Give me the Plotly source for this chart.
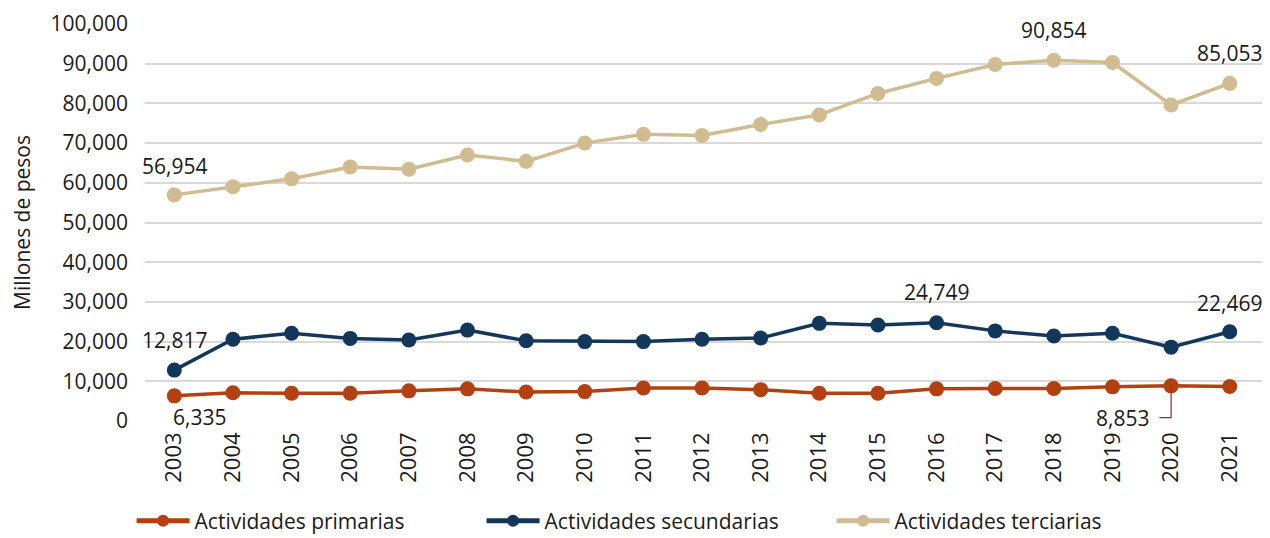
import plotly.graph_objects as go

years = [str(y) for y in range(2003, 2022)]
primarias = [6335, 7100, 7000, 7000, 7600, 8100, 7300, 7400, 8300, 8300, 7900, 7000, 7000, 8100, 8200, 8200, 8600, 8853, 8700]
secundarias = [12817, 20600, 22100, 20800, 20400, 22900, 20200, 20000, 20000, 20600, 20900, 24600, 24200, 24749, 22700, 21400, 22100, 18600, 22469]
terciarias = [56954, 59000, 61000, 64000, 63400, 67000, 65400, 70000, 72200, 71900, 74700, 77100, 82500, 86300, 89800, 90854, 90300, 79600, 85053]

names = ["Actividades primarias", "Actividades secundarias", "Actividades terciarias"]
colors = ["#B5400F", "#13375B", "#D1BC91"]
FONT = "Open Sans"
TXT = "#1a1a1a"

fig = go.Figure()
for name, vals, col in zip(names, [primarias, secundarias, terciarias], colors):
    fig.add_trace(go.Scatter(
        x=years, y=vals, name=name, mode="lines+markers",
        line=dict(color=col, width=3.5),
        marker=dict(color=col, size=15),
        hoverinfo="x+y",
    ))

def lab(i, y, text, dx, dy):
    fig.add_annotation(x=i, y=y, xref="x", yref="y", text=text, showarrow=False,
                       xshift=dx, yshift=dy,
                       font=dict(family=FONT, size=21, color=TXT))

lab(0, terciarias[0], "56,954", 0, 29)
lab(0, secundarias[0], "12,817", 0, 30)
lab(0, primarias[0], "6,335", 25, -21)
lab(13, secundarias[13], "24,749", 0, 31)
lab(18, secundarias[18], "22,469", 0, 29)
lab(15, terciarias[15], "90,854", 0, 30)
lab(18, terciarias[18], "85,053", 0, 30)
lab(17, primarias[17], "8,853", -49, -32)
# leader line for 8,853 label
fig.add_shape(type="path", xref="x", yref="y",
              path=f"M 17,{primarias[17]} L 17,{primarias[17]-8000} L 16.8,{primarias[17]-8000}",
              line=dict(color="#8B2E3C", width=1.2))

fig.update_layout(
    width=1262, height=530,
    margin=dict(l=137, r=8, t=16, b=117, autoexpand=False),
    plot_bgcolor="white", paper_bgcolor="white",
    font=dict(family=FONT, size=21, color=TXT),
    showlegend=True,
    legend=dict(orientation="h", x=-0.012, xanchor="left", y=-0.252, yanchor="middle",
                font=dict(family=FONT, size=21, color=TXT), itemwidth=53,
                itemsizing="constant", entrywidth=282, tracegroupgap=0),
    xaxis=dict(type="category", tickangle=-90, showgrid=False, showline=False,
               ticks="", tickfont=dict(size=22), range=[-0.5, 18.55],
               automargin=False, ticklabelstandoff=6),
    yaxis=dict(range=[0, 100000], dtick=10000, tickformat=",d", showgrid=True,
               gridcolor="#D9D9D9", gridwidth=1.5, zeroline=False, showline=False,
               title=dict(text="Millones de pesos", font=dict(size=21), standoff=18),
               tickfont=dict(size=21), automargin=False, ticklabelstandoff=16),
)
fig.write_html("out.html")
